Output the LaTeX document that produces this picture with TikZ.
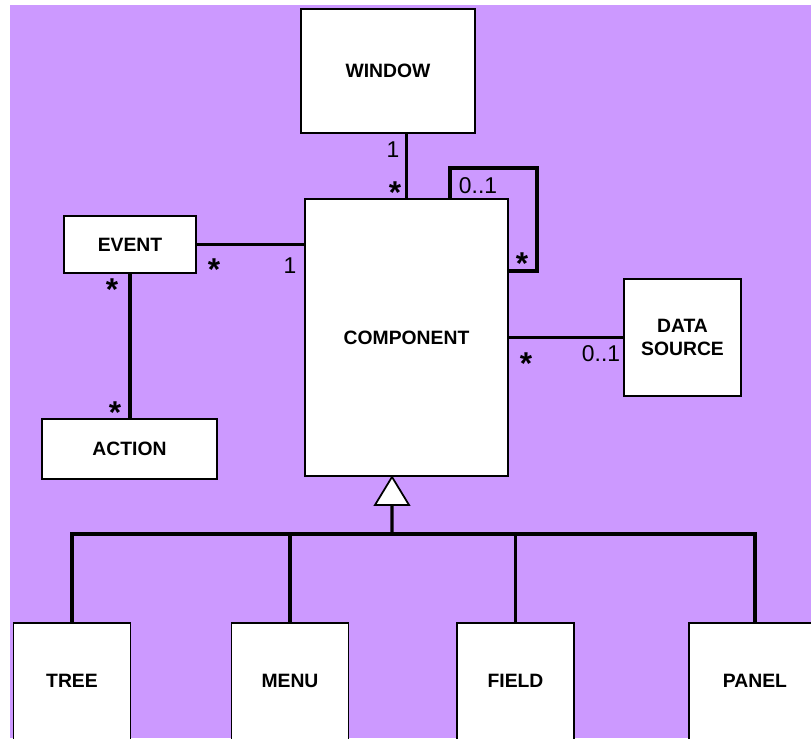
\documentclass[tikz,border=0pt]{standalone}
\usepackage{fontspec}
\setmainfont{Liberation Sans}
\usepackage{tikz}
\usetikzlibrary{calc}
\definecolor{lilac}{RGB}{204,153,255}

\begin{document}
\begin{tikzpicture}[x=0.02cm, y=-0.02cm,
        box/.style={draw, fill=white, line width=1.1pt, inner sep=0pt, align=center,
            font=\fontsize{11}{13}\selectfont\bfseries},
        leaf/.style={box, anchor=base, text height=1.28cm, text depth=1.9cm, minimum width=2.34cm},
        mult/.style={inner sep=0pt, font=\fontsize{13}{13}\selectfont},
        many/.style={inner sep=0pt, yshift=-0.12cm, font=\fontsize{18}{18}\selectfont\bfseries},
        assoc/.style={line width=1.8pt}]
        \useasboundingbox (0,0) rectangle (811,738);
        \clip (0,0) rectangle (811,738);
        \fill[lilac] (10,5) rectangle (811,738);

        \path
        (388,71) coordinate (w)
        (406.5,337.5) coordinate (c)
        (130,244.5) coordinate (e)
        (129.5,449) coordinate (a)
        (682.5,337.5) coordinate (d)
        (392,534) coordinate (bus)
        ;

        \node[box, minimum width=3.48cm, minimum height=2.49cm] (window) at (w) {WINDOW};
        \node[box, minimum width=4.06cm, minimum height=5.54cm] (component) at (c) {COMPONENT};
        \node[box, minimum width=2.64cm, minimum height=1.14cm] (event) at (e) {EVENT};
        \node[box, minimum width=3.5cm, minimum height=1.2cm] (action) at (a) {ACTION};
        \node[box, minimum width=2.34cm, minimum height=2.34cm] (source) at (d) {DATA\\SOURCE};

        \node[leaf] (tree) at (72,687) {TREE};
        \node[leaf] (menu) at (290,687) {MENU};
        \node[leaf] (field) at (515.5,687) {FIELD};
        \node[leaf, minimum width=2.64cm] (panel) at (755,687) {PANEL};

        \draw[assoc] (component.north) -- (component.north |- window.south);
        \draw[line width=2.1pt] ([xshift=0.87cm]component.north) -- ++(0,-30) -- ++(87,0) -- ++(0,103) -- ++(-29,0);
        \draw[assoc] (event) -- (event -| component.west);
        \draw[assoc] (event.south) -- (event.south |- action.north);
        \draw[assoc] (component) -- (source);

        \coordinate (tip) at ([xshift=-0.29cm]component.south);
        \draw[assoc] (tip) ++(0,28) -- (bus);
        \draw[assoc] (tree.north) |- (bus) -| (panel.north);
        \draw[assoc] (menu.north) -- (menu.north |- bus);
        \draw[assoc] (field.north) -- (field.north |- bus);
        \draw[line width=1pt, fill=white] (tip) -- ++(-17,28) -- ++(34,0) -- cycle;

        \node[mult] (wone) at (393,150) {1};
        \node[many] (wmany) at (395,187) {*};
        \node[mult] (loopone) at (478,186) {0..1};
        \node[many] (loopmany) at (522,258) {*};
        \node[many] (emany) at (214,264) {*};
        \node[mult] (eone) at (290,266) {1};
        \node[many] (amany) at (112,284) {*};
        \node[many] (aamany) at (115,407) {*};
        \node[many] (dmany) at (526,358) {*};
        \node[mult] (done) at (601,354) {0..1};
\end{tikzpicture}
\end{document}
